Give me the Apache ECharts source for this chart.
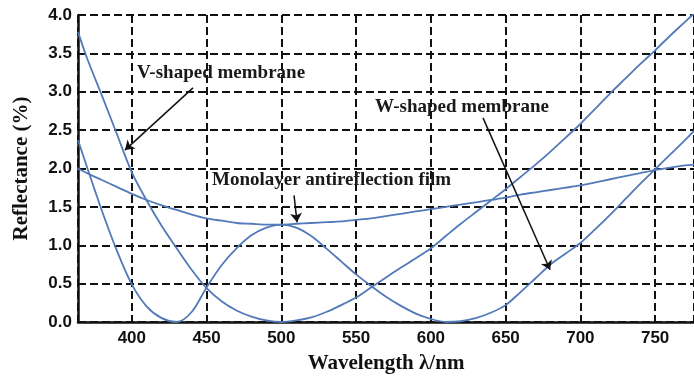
<!DOCTYPE html>
<html>
<head>
<meta charset="utf-8">
<script src="https://cdn.jsdelivr.net/npm/echarts@6/dist/echarts.min.js"></script>
<style>
html,body{margin:0;padding:0;background:#fff;}
#c{width:694px;height:383px;}
</style>
</head>
<body>
<div id="c"></div>
<script>
// Wavelength samples (nm)
var wavelengths = [364,370,380,390,400,410,420,430,440,450,460,470,480,490,500,510,520,530,540,550,560,570,580,590,600,610,620,630,640,650,660,670,680,690,700,710,720,730,740,750,760,770,776];
// V-shaped membrane reflectance (%)
var vShaped = [3.78,3.44,2.95,2.45,1.95,1.58,1.25,0.96,0.68,0.44,0.27,0.15,0.07,0.02,0.00,0.02,0.06,0.13,0.22,0.32,0.45,0.58,0.71,0.83,0.96,1.12,1.28,1.43,1.58,1.73,1.89,2.05,2.22,2.40,2.58,2.78,2.98,3.17,3.36,3.54,3.73,3.91,4.02];
// W-shaped membrane reflectance (%)
var wShaped = [2.37,2.02,1.45,0.93,0.49,0.20,0.05,0.00,0.13,0.45,0.74,0.96,1.13,1.23,1.27,1.23,1.12,0.96,0.79,0.62,0.47,0.33,0.21,0.11,0.04,0.00,0.01,0.05,0.12,0.22,0.39,0.57,0.75,0.89,1.03,1.21,1.40,1.60,1.80,1.99,2.18,2.37,2.49];
// Monolayer antireflection film reflectance (%)
var monolayer = [2.00,1.94,1.85,1.76,1.67,1.59,1.52,1.46,1.40,1.35,1.32,1.29,1.28,1.27,1.27,1.28,1.29,1.30,1.31,1.33,1.35,1.38,1.41,1.44,1.47,1.50,1.53,1.56,1.59,1.62,1.66,1.69,1.72,1.75,1.78,1.82,1.86,1.90,1.94,1.98,2.01,2.04,2.05];

var xTitle = 'Wavelength λ/nm';
var yTitle = 'Reflectance (%)';

// Annotation labels: [text, wavelength, reflectance] (left-middle anchor)
var labelTexts = ['V-shaped membrane','W-shaped membrane','Monolayer antireflection film'];
var labelAnchors = [[403.5,3.24],[562.6,2.80],[453.6,1.85]];
// Arrows: [[fromX,fromY],[toX,toY]]
var arrows = [
  [[440.9,3.05],[395.4,2.24]],
  [[634.9,2.66],[679.7,0.68]],
  [[508.5,1.65],[510.5,1.30]]
];

function pairs(ys){ return wavelengths.map(function(x,i){ return [x, ys[i]]; }); }

var lineColor = '#5279b8';
var chart = echarts.init(document.getElementById('c'), null, {renderer:'canvas'});

var gridDash = {color:'#111', width:2, type:[8,4]};

var option = {
  animation:false,
  backgroundColor:'#fff',
  grid:{left:78, right:0, top:15, bottom:61, containLabel:false},
  xAxis:{
    type:'value', min:364, max:776, splitNumber:8,
    axisLine:{show:true, onZero:false, lineStyle:{color:'#111', width:2.5}},
    axisTick:{show:false},
    axisLabel:{
      color:'#111', fontFamily:'Liberation Sans', fontWeight:'bold', fontSize:17, margin:8,
      showMinLabel:false, showMaxLabel:false,
      formatter:function(v){ return (v % 50 === 0) ? String(v) : ''; }
    },
    splitLine:{show:true, lineStyle:gridDash},
    name:xTitle, nameLocation:'middle', nameGap:31,
    nameTextStyle:{color:'#111', fontFamily:'Liberation Serif', fontWeight:'bold', fontSize:21}
  },
  yAxis:{
    type:'value', min:0, max:4, interval:0.5,
    axisLine:{show:true, onZero:false, lineStyle:{color:'#111', width:2.5}},
    axisTick:{show:false},
    axisLabel:{
      color:'#111', fontFamily:'Liberation Sans', fontWeight:'bold', fontSize:17, margin:6,
      formatter:function(v){ return v.toFixed(1); }
    },
    splitLine:{show:true, lineStyle:gridDash},
    name:yTitle, nameLocation:'middle', nameGap:46, nameRotate:90,
    nameTextStyle:{color:'#111', fontFamily:'Liberation Serif', fontWeight:'bold', fontSize:21}
  },
  series:[
    {type:'line', name:'V', data:pairs(vShaped), smooth:0.3, showSymbol:false, symbol:'none',
     lineStyle:{color:lineColor, width:1.8}, silent:true,
     markLine:{silent:true, symbol:['none','arrow'], symbolSize:9, animation:false,
       lineStyle:{color:'#111', width:1.5, type:'solid'}, label:{show:false},
       data:arrows.map(function(a){ return [{coord:a[0]},{coord:a[1]}]; })}
    },
    {type:'line', name:'W', data:pairs(wShaped), smooth:0.3, showSymbol:false, symbol:'none',
     lineStyle:{color:lineColor, width:1.8}, silent:true},
    {type:'line', name:'Mono', data:pairs(monolayer), smooth:0.3, showSymbol:false, symbol:'none',
     lineStyle:{color:lineColor, width:1.8}, silent:true}
  ]
};
chart.setOption(option);

var g = labelTexts.map(function(t,i){
  var p = chart.convertToPixel({gridIndex:0}, labelAnchors[i]);
  return {type:'text', x:p[0], y:p[1], silent:true, z:100,
    style:{text:t, fill:'#1a1a1a', font:'bold 19px "Liberation Serif"', align:'left', verticalAlign:'middle'}};
});
chart.setOption({graphic:g});
</script>
</body>
</html>
